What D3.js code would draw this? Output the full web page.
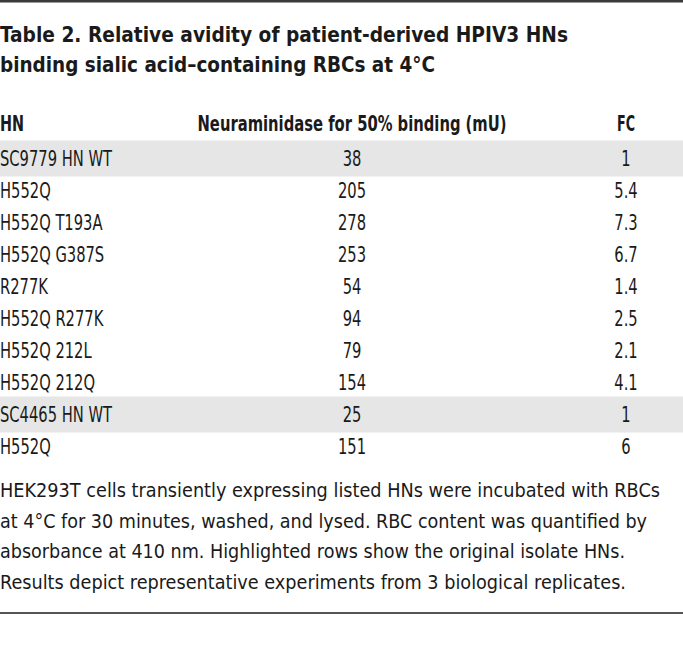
<!DOCTYPE html>
<html>
<head>
<meta charset="utf-8">
<script src="https://cdn.jsdelivr.net/npm/d3@7"></script>
<style>
  html, body { margin: 0; padding: 0; background: #fff; }
  svg { display: block; }
  text { font-family: "DejaVu Sans", sans-serif; font-stretch: condensed; fill: #1a1a1a; }
</style>
</head>
<body>
<svg id="chart" width="683" height="662"></svg>
<script>
const titleLines = [
  "Table 2. Relative avidity of patient-derived HPIV3 HNs",
  "binding sialic acid–containing RBCs at 4°C"
];
const columnHeaders = ["HN", "Neuraminidase for 50% binding (mU)", "FC"];
const hnLabels = ["SC9779 HN WT", "H552Q", "H552Q T193A", "H552Q G387S", "R277K",
  "H552Q R277K", "H552Q 212L", "H552Q 212Q", "SC4465 HN WT", "H552Q"];
const neuraminidase = ["38", "205", "278", "253", "54", "94", "79", "154", "25", "151"];
const foldChange = ["1", "5.4", "7.3", "6.7", "1.4", "2.5", "2.1", "4.1", "1", "6"];
const highlighted = [true, false, false, false, false, false, false, false, true, false];
const footnoteLines = [
  "HEK293T cells transiently expressing listed HNs were incubated with RBCs",
  "at 4°C for 30 minutes, washed, and lysed. RBC content was quantified by",
  "absorbance at 410 nm. Highlighted rows show the original isolate HNs.",
  "Results depict representative experiments from 3 biological replicates."
];

const W = 683;
const svg = d3.select("#chart");

// rules
svg.append("rect").attr("x", 0).attr("y", 0).attr("width", W).attr("height", 2.5).attr("fill", "#3a3a3a");
svg.append("rect").attr("x", 0).attr("y", 612).attr("width", W).attr("height", 2).attr("fill", "#555");

// title
const titleWidths = [568, 435];
svg.selectAll("text.title").data(titleLines).join("text")
  .attr("class", "title")
  .attr("x", 0)
  .attr("y", (d, i) => 42 + i * 29.5)
  .attr("font-size", 21)
  .attr("font-weight", "bold")
  .attr("textLength", (d, i) => titleWidths[i])
  .attr("lengthAdjust", "spacingAndGlyphs")
  .text(d => d);

// columns
const colX = [0, 352, 626];
const colAnchor = ["start", "middle", "middle"];
const headerWidths = [24, 309, 18];
svg.selectAll("text.header").data(columnHeaders).join("text")
  .attr("class", "header")
  .attr("x", (d, i) => colX[i])
  .attr("y", 131)
  .attr("font-size", 20.5)
  .attr("font-weight", "bold")
  .attr("text-anchor", (d, i) => colAnchor[i])
  .attr("textLength", (d, i) => headerWidths[i])
  .attr("lengthAdjust", "spacingAndGlyphs")
  .text(d => d);

// rows
const idx = d3.range(hnLabels.length);
const y = d3.scaleBand().domain(idx).range([142.5, 142.5 + 32 * hnLabels.length]).padding(0);

svg.selectAll("rect.hl").data(idx.filter(i => highlighted[i])).join("rect")
  .attr("class", "hl")
  .attr("x", 0)
  .attr("width", W)
  .attr("y", i => y(i) + y.bandwidth() / 2 - 18)
  .attr("height", 36)
  .attr("fill", "#e6e6e6");

const rowG = svg.selectAll("g.row").data(idx).join("g")
  .attr("class", "row")
  .attr("transform", i => `translate(0,${y(i) + y.bandwidth() / 2 + 7.5})`);

rowG.append("text").attr("x", colX[0]).attr("font-size", 20.5).text(i => hnLabels[i]);
rowG.append("text").attr("x", colX[1]).attr("text-anchor", "middle").attr("font-size", 20.5).text(i => neuraminidase[i]);
rowG.append("text").attr("x", colX[2]).attr("text-anchor", "middle").attr("font-size", 20.5).text(i => foldChange[i]);

// condense row text uniformly so that "SC9779 HN WT" is ~112px wide, as in the reference
const cells = rowG.selectAll("text");
const sampleW = rowG.filter((d, i) => i === 0).select("text").node().getComputedTextLength();
const ratio = 112 / sampleW;
cells.each(function () {
  const w = this.getComputedTextLength();
  d3.select(this).attr("textLength", w * ratio).attr("lengthAdjust", "spacingAndGlyphs");
});

// footnote
const footWidths = [660, 647, 625, 626];
svg.selectAll("text.foot").data(footnoteLines).join("text")
  .attr("class", "foot")
  .attr("x", 0)
  .attr("y", (d, i) => 497 + i * 30.5)
  .attr("font-size", 19.5)
  .attr("textLength", (d, i) => footWidths[i])
  .attr("lengthAdjust", "spacingAndGlyphs")
  .text(d => d);
</script>
</body>
</html>
